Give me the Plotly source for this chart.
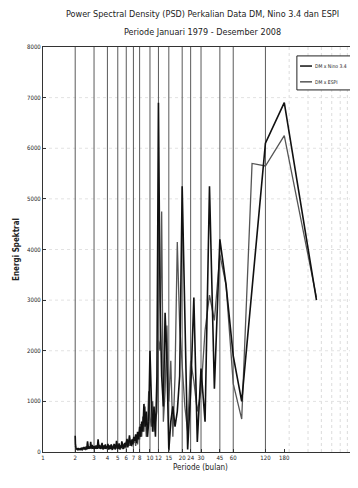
import plotly.graph_objects as go
import math

N_MONTHS = 360
harmonics = list(range(1, 181))
periods = [N_MONTHS / k for k in harmonics]

# DM x Nino 3.4 (black)
psd_nino = [
    3000, 6900, 6100, 3250, 1000, 1900, 3300, 4200, 1250, 5250,
    600, 1650, 200, 3050, 1200, 50, 2500, 5250, 1500, 800,
    500, 900, 600, 30, 1800, 2750, 900, 1500, 3000, 6900,
    1500, 300, 900, 400, 1100, 2000, 600, 300, 800, 500,
    950, 400, 600, 300, 500, 250, 400, 180, 350, 220,
    300, 150, 250, 120, 200, 330, 180, 90, 260, 140,
    90, 180, 110, 60, 150, 210, 80, 130, 50, 170, 100, 60, 140, 220, 90, 50, 120, 160, 70, 110, 40, 90, 150, 60, 100, 130, 50, 80, 160, 70,
    120, 80, 60, 150, 100, 70, 130, 90, 50, 110, 180, 120, 70, 90, 60, 140, 100, 80, 200, 250, 150, 60, 110, 80, 130, 70, 100, 60, 90, 120,
    80, 100, 60, 90, 140, 110, 70, 160, 200, 120, 90, 70, 110, 80, 60, 100, 180, 210, 150, 50, 80, 110, 60, 90, 70, 50, 80, 60, 100, 70,
    60, 80, 50, 70, 90, 60, 40, 70, 50, 80, 60, 40, 50, 70, 60, 40, 50, 60, 80, 50, 40, 60, 70, 50, 50, 60, 80, 100, 150, 320,
]

# DM x ESPI (grey)
psd_espi = [
    3050, 6250, 5650, 5700, 650, 1350, 3300, 3900, 2600, 3100,
    2400, 1200, 800, 1400, 1800, 400, 900, 1800, 2500, 4150,
    1500, 300, 1800, 1000, 2500, 1200, 600, 4750, 2000, 2200,
    800, 600, 400, 1000, 500, 700, 1200, 500, 300, 900,
    400, 700, 300, 550, 250, 350, 150, 300, 120, 280,
    180, 260, 110, 230, 150, 120, 240, 170, 100, 200,
    120, 70, 150, 90, 60, 110, 140, 50, 100, 80, 130, 90, 60, 110, 150, 80, 60, 100, 120, 50, 90, 140, 70, 110, 60, 90, 120, 80, 50, 100,
    80, 110, 70, 90, 130, 60, 80, 100, 120, 70, 90, 60, 110, 80, 100, 70, 90, 130, 80, 60, 100, 120, 70, 90, 60, 110, 80, 70, 100, 60,
    70, 60, 90, 80, 100, 70, 60, 110, 130, 80, 70, 90, 60, 100, 80, 70, 90, 60, 80, 100, 60, 70, 90, 50, 80, 60, 70, 90, 60, 80,
    50, 60, 70, 40, 60, 50, 70, 40, 60, 50, 40, 60, 50, 40, 70, 50, 40, 60, 50, 40, 50, 60, 40, 50, 60, 70, 60, 80, 100, 120,
]

series_names = ["DM x Nino 3.4", "DM x ESPI"]
series_colors = ["#111111", "#555555"]

x_tick_vals = [1, 2, 3, 4, 5, 6, 7, 8, 10, 12, 15, 20, 24, 30, 45, 60, 120, 180]
marker_periods = [2, 3, 4, 5, 6, 7, 8, 10, 12, 15, 20, 24, 30, 45, 60, 120]
minor_grid_periods = [200, 300, 400, 500, 600, 700, 800]
y_tick_vals = [0, 1000, 2000, 3000, 4000, 5000, 6000, 7000, 8000]

FONT = "DejaVu Sans Condensed, Liberation Sans Narrow, Arial Narrow, Liberation Sans, sans-serif"

fig = go.Figure()

# faint dotted grid
for p in minor_grid_periods:
    fig.add_shape(type="line", xref="x", yref="paper", x0=p, x1=p, y0=0, y1=1,
                  line=dict(color="#dcdcdc", width=1, dash="dot"), layer="below")
for yv in y_tick_vals[1:-1]:
    fig.add_shape(type="line", xref="paper", yref="y", x0=0, x1=1, y0=yv, y1=yv,
                  line=dict(color="#e2e2e2", width=1, dash="dot"), layer="below")

# period reference lines
for p in marker_periods:
    fig.add_shape(type="line", xref="x", yref="paper", x0=p, x1=p, y0=0, y1=1,
                  line=dict(color="#5a5a5a", width=1), layer="below")

fig.add_trace(go.Scatter(x=periods, y=psd_espi, mode="lines", name=series_names[1],
                         line=dict(color=series_colors[1], width=1.3), showlegend=False))
fig.add_trace(go.Scatter(x=periods, y=psd_nino, mode="lines", name=series_names[0],
                         line=dict(color=series_colors[0], width=1.6), showlegend=False))

# legend box (drawn, like the reference, at the top right)
annotations = [
    dict(text="Power Spectral Density (PSD) Perkalian Data DM, Nino 3.4 dan ESPI",
         xref="paper", yref="paper", x=0.505, y=1.0, yshift=33,
         showarrow=False, font=dict(size=9, family=FONT), xanchor="center", yanchor="middle"),
    dict(text="Periode Januari 1979 - Desember 2008",
         xref="paper", yref="paper", x=0.505, y=1.0, yshift=15,
         showarrow=False, font=dict(size=9, family=FONT), xanchor="center", yanchor="middle"),
]
fig.add_shape(type="rect", xref="paper", yref="paper", x0=0.806, x1=0.997, y0=0.894, y1=0.978,
              line=dict(color="#222222", width=1), fillcolor="white", layer="above")
for i, (nm, col) in enumerate(zip(series_names, series_colors)):
    yy = 0.953 - i * 0.039
    fig.add_shape(type="line", xref="paper", yref="paper", x0=0.816, x1=0.854, y0=yy, y1=yy,
                  line=dict(color=col, width=1.5), layer="above")
    annotations.append(dict(text=nm, xref="paper", yref="paper", x=0.858, y=yy,
                            xanchor="left", yanchor="middle", showarrow=False,
                            font=dict(size=5, family=FONT, color="#222222")))

fig.update_layout(
    width=350, height=480,
    margin=dict(l=35, r=0, t=39, b=36, autoexpand=False),
    paper_bgcolor="white", plot_bgcolor="white",
    font=dict(family=FONT, color="#222222", size=7),
    showlegend=False,
    annotations=annotations,
)

fig.update_xaxes(
    type="log", range=[0, math.log10(880)], automargin=False,
    tickvals=x_tick_vals, ticktext=[str(v) for v in x_tick_vals],
    showgrid=False, zeroline=False,
    showline=True, linecolor="#333333", linewidth=1, mirror=True,
    ticks="inside", ticklen=3, tickcolor="#333333",
    tickfont=dict(size=6, family=FONT), tickangle=0,
    title=dict(text="Periode (bulan)", font=dict(size=8, family=FONT), standoff=4),
)
fig.update_yaxes(
    range=[0, 8000], tickvals=y_tick_vals, automargin=False,
    showgrid=False, zeroline=False,
    showline=True, linecolor="#333333", linewidth=1,
    ticks="inside", ticklen=3, tickcolor="#333333",
    tickfont=dict(size=6, family=FONT),
    title=dict(text="<b>Energi Spektral</b>", font=dict(size=8, family=FONT), standoff=6),
)

fig.write_html("out.html")
